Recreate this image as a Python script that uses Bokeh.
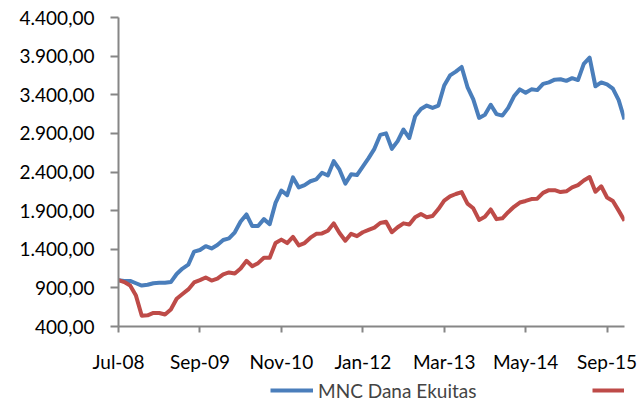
from bokeh.plotting import figure
from bokeh.layouts import column
from bokeh.models import Legend, LegendItem, FixedTicker, Range1d
from bokeh.embed import file_html
from bokeh.resources import INLINE

# ---- data ----
tick_labels = ["Jul-08", "Sep-09", "Nov-10", "Jan-12", "Mar-13", "May-14", "Sep-15"]
tick_index = [0, 14, 28, 42, 56, 70, 84]

mnc_dana_ekuitas = [
    1000, 990, 990, 960, 930, 940, 960, 965, 965, 975,
    1080, 1150, 1200, 1370, 1390, 1440, 1410, 1455, 1520, 1540,
    1620, 1760, 1850, 1700, 1700, 1790, 1725, 2000, 2160, 2100,
    2330, 2200, 2230, 2280, 2305, 2390, 2355, 2540, 2430, 2250,
    2370, 2360, 2470, 2580, 2700, 2880, 2900, 2700, 2800, 2950,
    2840, 3120, 3215, 3260, 3230, 3260, 3520, 3650, 3700, 3760,
    3500, 3340, 3100, 3140, 3270, 3150, 3130, 3230, 3380, 3470,
    3425, 3470, 3460, 3540, 3560, 3595, 3600, 3580, 3615, 3590,
    3800, 3880, 3510, 3560, 3535, 3480, 3330, 3080,
]

ihsg = [
    1000, 975, 930, 800, 540, 545, 575, 575, 555, 620,
    760, 820, 880, 970, 1000, 1035, 995, 1020, 1075, 1100,
    1085, 1150, 1250, 1180, 1220, 1290, 1290, 1480, 1525, 1480,
    1560, 1450, 1480, 1550, 1600, 1605, 1640, 1735, 1610, 1510,
    1600, 1570, 1620, 1650, 1680, 1740, 1755, 1620, 1685, 1735,
    1720, 1815, 1855, 1815, 1830, 1920, 2030, 2085, 2115, 2140,
    1990, 1930, 1780, 1820, 1915, 1790, 1800, 1880, 1950, 2005,
    2025, 2050, 2055, 2130, 2165, 2165, 2140, 2150, 2200, 2230,
    2290, 2335, 2145, 2215, 2070, 2025, 1900, 1770,
]

y_ticks = [400, 900, 1400, 1900, 2400, 2900, 3400, 3900, 4400]

def fmt(v):
    s = f"{v:,.2f}"
    return s.replace(",", "X").replace(".", ",").replace("X", ".")

x = list(range(len(mnc_dana_ekuitas)))

FONT = "Lato"
BLUE = "#4a7ebb"
RED = "#be4b48"
AXIS = "#868686"

# ---- main chart ----
p = figure(width=637, height=375, output_backend="svg", toolbar_location=None,
           min_border_left=118, min_border_right=13, min_border_top=17, min_border_bottom=47)
p.x_range = Range1d(0, len(x) - 1)
p.y_range = Range1d(400, 4400)
p.outline_line_color = None
p.xgrid.visible = False
p.ygrid.visible = False

p.line(x, mnc_dana_ekuitas, line_color=BLUE, line_width=4, line_join="round")
p.line(x, ihsg, line_color=RED, line_width=4, line_join="round")

p.yaxis.ticker = FixedTicker(ticks=y_ticks)
p.yaxis.major_label_overrides = {t: fmt(t) for t in y_ticks}
p.xaxis.ticker = FixedTicker(ticks=tick_index)
p.xaxis.major_label_overrides = dict(zip(tick_index, tick_labels))

for ax in (p.xaxis[0], p.yaxis[0]):
    ax.axis_line_color = AXIS
    ax.axis_line_width = 2
    ax.major_tick_line_color = AXIS
    ax.major_tick_line_width = 2
    ax.major_tick_in = 0
    ax.minor_tick_line_color = None
    ax.major_label_text_font = FONT
    ax.major_label_text_font_size = "19px"
    ax.major_label_text_color = "#000000"
p.yaxis.major_tick_out = 8
p.yaxis.major_label_standoff = 16
p.xaxis.major_tick_out = 6
p.xaxis.major_label_standoff = 17

# ---- legend strip below the chart ----
lg = figure(width=637, height=30, output_backend="svg", toolbar_location=None,
            x_axis_type=None, y_axis_type=None,
            min_border_left=0, min_border_right=0, min_border_top=0, min_border_bottom=0)
lg.x_range = Range1d(0, len(x) - 1)
lg.y_range = Range1d(-2, -1)   # series lie outside this range; only the legend shows
lg.outline_line_color = None
lg.xgrid.visible = False
lg.ygrid.visible = False
g1 = lg.line(x, mnc_dana_ekuitas, line_color=BLUE, line_width=4)
g2 = lg.line(x, ihsg, line_color=RED, line_width=4)

legend = Legend(items=[LegendItem(label="MNC Dana Ekuitas", renderers=[g1]),
                       LegendItem(label="IHSG", renderers=[g2])],
                orientation="horizontal", location=(152, 3),
                padding=0, margin=0, spacing=116,
                glyph_width=43, glyph_height=24, label_height=24, label_standoff=5,
                label_text_font=FONT, label_text_font_size="19px",
                border_line_alpha=0, background_fill_alpha=0)
lg.add_layout(legend, "center")

layout = column(p, lg, spacing=0)
open("out.html", "w").write(file_html(layout, INLINE))
